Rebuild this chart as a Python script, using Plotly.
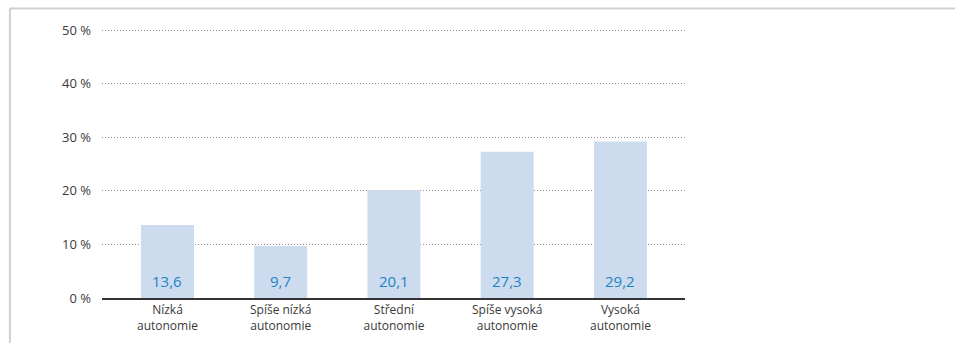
import plotly.graph_objects as go

categories = ["Nízká<br>autonomie", "Spíše nízká<br>autonomie", "Střední<br>autonomie",
              "Spíše vysoká<br>autonomie", "Vysoká<br>autonomie"]
values = [13.6, 9.7, 20.1, 27.3, 29.2]
y_ticks = [0, 10, 20, 30, 40, 50]
y_tick_labels = [f"{t} %" for t in y_ticks]

font_family = "Open Sans, Noto Sans, sans-serif"

fig = go.Figure()
fig.add_trace(go.Bar(
    x=list(range(len(categories))),
    y=values,
    width=0.468,
    marker=dict(color="#ccdbee", line=dict(width=0)),
    hoverinfo="skip",
))

# value labels sitting at the foot of each bar
for i, v in enumerate(values):
    fig.add_annotation(
        x=i, y=0, yref="y", xref="x",
        text=f"{v:.1f}".replace(".", ","),
        showarrow=False, yanchor="bottom", yshift=5,
        font=dict(family=font_family, size=15, color="#1f84c6"),
    )

# light frame along the top and left edge
fig.add_shape(type="line", xref="paper", yref="paper",
              x0=-0.158, x1=1.5, y0=1.0765, y1=1.0765,
              line=dict(color="#cfcfcf", width=2))
fig.add_shape(type="line", xref="paper", yref="paper",
              x0=-0.158, x1=-0.158, y0=1.0765, y1=-0.3,
              line=dict(color="#cfcfcf", width=2))

fig.update_layout(
    width=955, height=343,
    margin=dict(l=102, r=270, t=29, b=45, autoexpand=False),
    paper_bgcolor="white", plot_bgcolor="white",
    showlegend=False,
    font=dict(family=font_family, size=12, color="#333333"),
    xaxis=dict(
        range=[-0.578, 4.57],
        tickmode="array", tickvals=list(range(len(categories))), ticktext=categories,
        showgrid=False, zeroline=False,
        showline=True, linecolor="#333333", linewidth=2,
        ticks="", tickfont=dict(size=12, color="#3a3a3a"),
        automargin=False, fixedrange=True,
    ),
    yaxis=dict(
        range=[0, 50.2],
        tickmode="array", tickvals=y_ticks, ticktext=y_tick_labels,
        showgrid=True, gridcolor="#8c8c8c", gridwidth=1, griddash="1px,2px",
        zeroline=False, showline=False, ticks="",
        ticklabelstandoff=10,
        tickfont=dict(size=13, color="#3a3a3a"),
        automargin=False, fixedrange=True,
    ),
)

fig.write_html("out.html")
